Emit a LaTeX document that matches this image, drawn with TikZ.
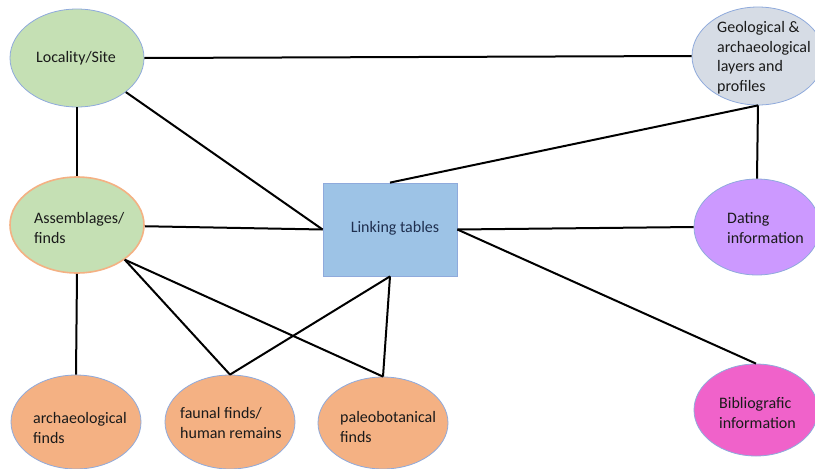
\documentclass[tikz,border=0pt]{standalone}
\usepackage{fontspec}
\setmainfont{Carlito}
\usetikzlibrary{shapes.geometric}
\definecolor{greenfill}{HTML}{C5E0B4}
\definecolor{blueedge}{HTML}{8FAADC}
\definecolor{peach}{HTML}{F4B183}
\definecolor{geofill}{HTML}{D6DCE5}
\definecolor{linkfill}{HTML}{9DC3E6}
\definecolor{purplefill}{HTML}{CC99FF}
\definecolor{pinkfill}{HTML}{F062CA}
\definecolor{txt}{HTML}{1A1A1A}
\definecolor{navy}{HTML}{1F2F4F}
\begin{document}
\begin{tikzpicture}[x=1pt,y=-1pt,
  every node/.style={font=\fontsize{16}{19.5}\selectfont, text=txt, align=left, inner sep=0pt},
  oval/.style={ellipse, draw=blueedge, line width=0.8pt},
  lbl/.style={anchor=west},
  conn/.style={draw=black, line width=2pt}]
\clip (0,0) rectangle (815,469);
\fill[white] (0,0) rectangle (815,469);
% shapes
\node[oval, fill=greenfill, minimum width=134pt, minimum height=98pt] (loc) at (77,58) {};
\node[oval, fill=geofill, minimum width=132pt, minimum height=98pt] (geo) at (758,56) {};
\node[oval, fill=greenfill, draw=peach, line width=1.6pt, minimum width=134pt, minimum height=96pt] (asm) at (77,225) {};
\node[rectangle, draw=blueedge, line width=0.8pt, fill=linkfill, minimum width=134pt, minimum height=93pt] (link) at (390,229.5) {};
\node[oval, fill=purplefill, minimum width=126pt, minimum height=96pt] (dat) at (757,227) {};
\node[oval, fill=pinkfill, minimum width=124pt, minimum height=92pt] (bib) at (756,410) {};
\node[oval, fill=peach, minimum width=130pt, minimum height=94pt] (arch) at (76,422) {};
\node[oval, fill=peach, minimum width=130pt, minimum height=94pt] (faun) at (230,422) {};
\node[oval, fill=peach, minimum width=130pt, minimum height=92pt] (paleo) at (383,423) {};
% texts
\node (loct) at (76,58) {Locality/Site};
\node[lbl] (geot) at (717,57.5) {Geological \&\\archaeological\\layers and\\profiles};
\node[lbl] (asmt) at (34,228) {Assemblages/\\finds};
\node[text=navy] (linkt) at (395,228) {Linking tables};
\node[lbl] (datt) at (727,228) {Dating\\information};
\node[lbl] (bibt) at (719,413) {Bibliografic\\information};
\node[lbl] (archt) at (33,428) {archaeological\\finds};
\node[lbl] (faunt) at (180,423) {faunal finds/\\human remains};
\node[lbl] (paleot) at (340,427) {paleobotanical\\finds};
% connectors
\draw[conn] (loc.east) -- (geo.west);
\draw[conn] (loc.south) -- (asm.north);
\draw[conn] (loc) -- (link.west);
\draw[conn] (asm) -- (link.west);
\draw[conn] (geo.south) -- (link.north);
\draw[conn] (geo.south) -- (dat.north);
\draw[conn] (link.east) -- (dat.west);
\draw[conn] (link.east) -- (bib.north);
\draw[conn] (asm.south) -- (arch.north);
\draw[conn] (asm.-36) -- (faun.north);
\draw[conn] (asm.-36) -- (paleo.north);
\draw[conn] (link.south) -- (faun.north);
\draw[conn] (link.south) -- (paleo.north);
\end{tikzpicture}
\end{document}
